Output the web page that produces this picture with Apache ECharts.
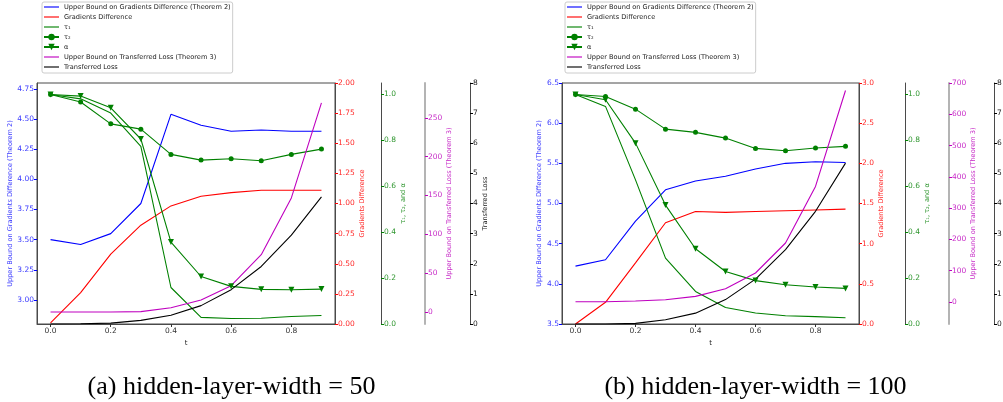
<!DOCTYPE html>
<html>
<head>
<meta charset="utf-8">
<script src="https://cdn.jsdelivr.net/npm/echarts@6/dist/echarts.min.js"></script>
<style>html,body{margin:0;padding:0;background:#fff;}#c{width:1003px;height:402px;}</style>
</head>
<body>
<div id="c"></div>
<script>
// ---- data ----
const t = [0, 0.1, 0.2, 0.3, 0.4, 0.5, 0.6, 0.7, 0.8, 0.9];
const seriesNames = ['Upper Bound on Gradients Difference (Theorem 2)', 'Gradients Difference', 'τ₁', 'τ₂', 'α', 'Upper Bound on Transferred Loss (Theorem 3)', 'Transferred Loss'];
const axisNames = ['Upper Bound on Gradients Difference (Theorem 2)', 'Gradients Difference', 'τ₁, τ₂, and α', 'Upper Bound on Transferred Loss (Theorem 3)', 'Transferred Loss'];
const captions = ['(a) hidden-layer-width = 50', '(b) hidden-layer-width = 100'];

// panel (a)
const ubGradA = [3.50, 3.46, 3.55, 3.80, 4.54, 4.45, 4.40, 4.41, 4.40, 4.40];
const gradDiffA = [0.01, 0.26, 0.58, 0.82, 0.98, 1.06, 1.09, 1.11, 1.11, 1.11];
const tau1A = [1.0, 0.981, 0.919, 0.774, 0.159, 0.029, 0.024, 0.025, 0.033, 0.037];
const tau2A = [1.0, 0.967, 0.872, 0.849, 0.739, 0.714, 0.720, 0.711, 0.739, 0.762];
const alphaA = [1.0, 0.993, 0.942, 0.806, 0.357, 0.207, 0.164, 0.151, 0.149, 0.152];
const ubLossA = [0, 0, 0, 0.4, 5.5, 15.5, 33.9, 73.8, 146.9, 269.3];
const lossA = [0, 0.01, 0.03, 0.12, 0.29, 0.61, 1.14, 1.91, 2.95, 4.22];

// panel (b)
const ubGradB = [4.22, 4.30, 4.78, 5.17, 5.28, 5.34, 5.43, 5.50, 5.52, 5.51];
const gradDiffB = [0.0, 0.27, 0.76, 1.26, 1.40, 1.39, 1.40, 1.41, 1.42, 1.43];
const tau1B = [1.0, 0.948, 0.628, 0.287, 0.142, 0.072, 0.048, 0.036, 0.032, 0.027];
const tau2B = [1.0, 0.991, 0.936, 0.849, 0.835, 0.810, 0.765, 0.755, 0.767, 0.774];
const alphaB = [1.0, 0.977, 0.788, 0.518, 0.328, 0.229, 0.189, 0.171, 0.161, 0.155];
const ubLossB = [1, 1, 3, 7, 18, 42.5, 92.7, 188.6, 369.5, 676];
const lossB = [0, 0, 0.02, 0.14, 0.36, 0.81, 1.49, 2.47, 3.74, 5.34];

// tick labels
const xTicks = [0, 0.2, 0.4, 0.6, 0.8];
const blueTicksA = [3.00, 3.25, 3.50, 3.75, 4.00, 4.25, 4.50, 4.75];
const redTicksA = [0, 0.25, 0.5, 0.75, 1.0, 1.25, 1.5, 1.75, 2.0];
const magTicksA = [0, 50, 100, 150, 200, 250];
const blueTicksB = [3.5, 4.0, 4.5, 5.0, 5.5, 6.0, 6.5];
const redTicksB = [0, 0.5, 1.0, 1.5, 2.0, 2.5, 3.0];
const magTicksB = [0, 100, 200, 300, 400, 500, 600, 700];
const greenTicks = [0, 0.2, 0.4, 0.6, 0.8, 1.0];
const blackTicks = [0, 1, 2, 3, 4, 5, 6, 7, 8];

// ---- styling / layout ----
const FONT = 'DejaVu Sans';
const COLORS = ['#0000ff', '#ff0000', '#008000', '#bf00bf', '#000000'];
const LABEL_COLORS = ['#3a3aff', '#ff2a2a', '#2f962f', '#c72cc7', '#222222'];
const SPINE = '#4a4a4a';
const downTri = 'path://M0,0 L10,0 L5,9 Z';
const lineIcon = 'path://M0,0 M16,8 M0,3.4 L16,3.4 L16,4.6 L0,4.6 Z';

const panels = [
  { left: 37, width: 298, legendLeft: 42, capX: 231.5,
    data: [ubGradA, gradDiffA, tau1A, tau2A, alphaA, ubLossA, lossA],
    ranges: [[2.8, 4.8], [0, 2], [0, 1.05], [-15.5, 295], [0, 8]],
    ticks: [blueTicksA, redTicksA, greenTicks, magTicksA, blackTicks],
    dec: [2, 2, 1, 0, 0],
    gaps: [19.5, 20, 15, 16.5, 8.5] },
  { left: 562, width: 297, legendLeft: 565, capX: 755.5,
    data: [ubGradB, gradDiffB, tau1B, tau2B, alphaB, ubLossB, lossB],
    ranges: [[3.5, 6.5], [0, 3], [0, 1.05], [-70.3, 700], [0, 8]],
    ticks: [blueTicksB, redTicksB, greenTicks, magTicksB, blackTicks],
    dec: [1, 1, 1, 0, 0],
    gaps: [16, 15.5, 14.5, 16.5, 8.5] }
];
const offsets = [0, 0, 46, 90, 135];
const seriesAxis = [0, 1, 2, 2, 2, 3, 4];
const seriesColor = [COLORS[0], COLORS[1], COLORS[2], COLORS[2], COLORS[2], COLORS[3], COLORS[4]];
const seriesSymbol = ['none', 'none', 'none', 'circle', downTri, 'none', 'none'];

const grid = [], xAxis = [], yAxis = [], series = [], legend = [], graphic = [];
panels.forEach((p, pi) => {
  grid.push({ left: p.left, top: 83, width: p.width, height: 241, show: true, borderColor: SPINE, borderWidth: 1, backgroundColor: 'transparent', containLabel: false, outerBoundsMode: 'none' });
  xAxis.push({
    type: 'value', gridIndex: pi, min: -0.045, max: 0.945,
    name: 't', nameLocation: 'middle', nameGap: 13,
    nameTextStyle: { fontFamily: FONT, fontSize: 7, color: '#222' },
    axisLine: { show: true, lineStyle: { color: SPINE } },
    axisTick: { show: true, length: 3, lineStyle: { color: '#333' }, customValues: xTicks },
    axisLabel: { fontFamily: FONT, fontSize: 7.5, color: '#333', margin: 3, customValues: xTicks, formatter: v => v.toFixed(1) },
    splitLine: { show: false }
  });
  for (let a = 0; a < 5; a++) {
    const isMag = a === 3;
    yAxis.push({
      type: 'value', gridIndex: pi,
      position: a === 0 ? 'left' : 'right',
      offset: offsets[a],
      min: p.ranges[a][0], max: p.ranges[a][1],
      name: axisNames[a], nameLocation: 'middle', nameRotate: 90, nameGap: p.gaps[a],
      nameTextStyle: { fontFamily: FONT, fontSize: 6.6, color: LABEL_COLORS[a] },
      axisLine: { show: true, onZero: false, lineStyle: { color: isMag ? '#b4b4b4' : SPINE, width: isMag ? 2 : 1 } },
      axisTick: { show: true, length: 3, lineStyle: { color: COLORS[a] }, customValues: p.ticks[a] },
      axisLabel: { fontFamily: FONT, fontSize: 7.5, color: LABEL_COLORS[a], margin: 3, customValues: p.ticks[a], formatter: v => Number(v).toFixed(p.dec[a]) },
      splitLine: { show: false }
    });
  }
  p.data.forEach((d, si) => {
    series.push({
      type: 'line', name: seriesNames[si],
      xAxisIndex: pi, yAxisIndex: pi * 5 + seriesAxis[si],
      data: t.map((x, i) => [x, d[i]]),
      symbol: seriesSymbol[si], symbolSize: si === 3 ? 5 : 6, showSymbol: seriesSymbol[si] !== 'none',
      itemStyle: { color: seriesColor[si] },
      lineStyle: { color: seriesColor[si], width: 1.1 },
      emphasis: { disabled: true },
      animation: false, silent: true
    });
  });
  legend.push({
    orient: 'vertical', left: p.legendLeft, top: 2,
    data: seriesNames.map((n, si) => seriesSymbol[si] === 'none' ? { name: n, icon: lineIcon } : { name: n }),
    itemWidth: 15, itemHeight: 8, itemGap: 2,
    padding: [1, 2, 2, 1],
    borderColor: '#cccccc', borderWidth: 1, borderRadius: 2,
    textStyle: { fontFamily: FONT, fontSize: 6.6, color: '#222', lineHeight: 8 },
    selectedMode: false
  });
  graphic.push({
    type: 'text', x: p.capX, y: 387, silent: true,
    style: { text: captions[pi], fontFamily: 'Liberation Serif', fontSize: 26, fill: '#000', align: 'center', verticalAlign: 'middle' }
  });
});

const chart = echarts.init(document.getElementById('c'), null, { renderer: 'canvas' });
chart.setOption({
  animation: false,
  backgroundColor: '#ffffff',
  grid, xAxis, yAxis, series, legend, graphic
});
</script>
</body>
</html>
